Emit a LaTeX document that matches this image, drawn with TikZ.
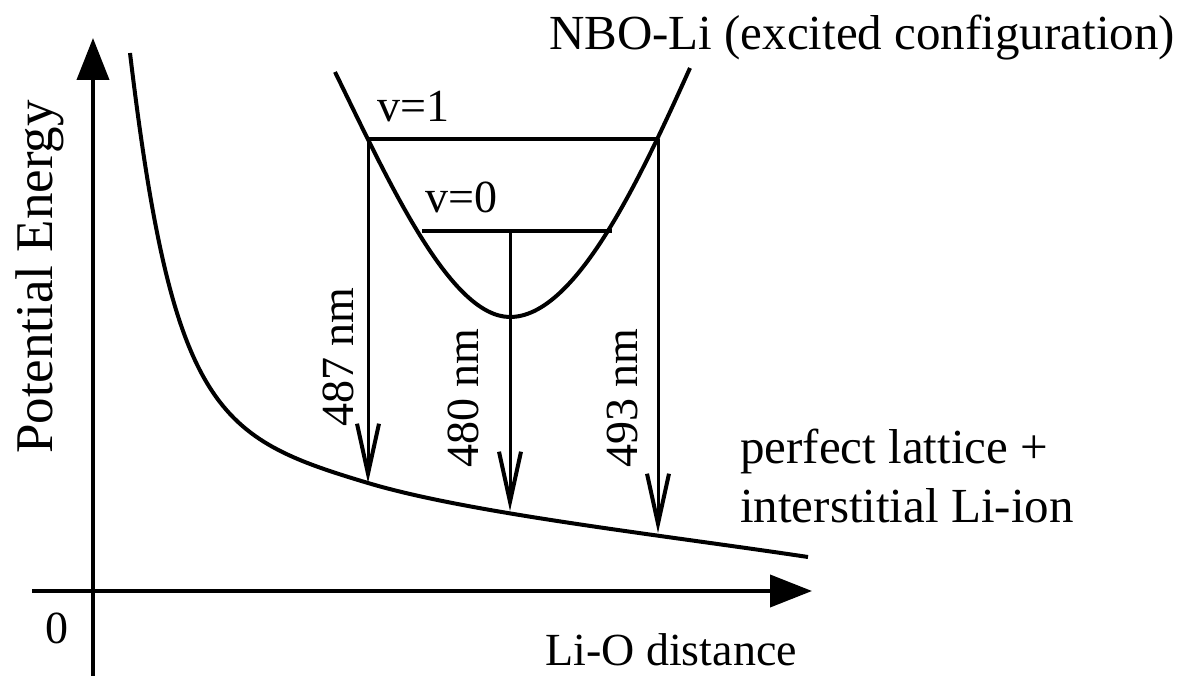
\documentclass[tikz,border=0pt]{standalone}
\usepackage{fontspec}
\setmainfont{Liberation Serif}
\usepackage{tikz}
\usetikzlibrary{arrows.meta,positioning}
\tikzset{
    % Base label style
    labeltext/.style={
        inner sep=0pt,
        font=\fontsize{46}{55}\selectfont
    },
    % Larger label style
    bigtext/.style={
        labeltext,
        font=\fontsize{49}{58}\selectfont
    },
    % Wavelength label style
    nmtext/.style={
        labeltext,
        rotate=90
    },
    % Axis style
    axisline/.style={
        -{Triangle[length=42pt,width=32pt]},
        line width=4pt
    },
    % Potential curve style
    curveline/.style={
        line width=4pt,
        line join=round
    },
    % Vibrational level style
    levelline/.style={
        line width=4pt
    },
    % Emission arrow style
    emitarrow/.style={
        -{Straight Barb[length=50pt,width=22pt,line width=4pt]},
        line width=3pt
    }
}
\begin{document}
\begin{tikzpicture}[x=1pt,y=-1pt]
    \useasboundingbox (0,0) rectangle (1186,676);

    % axes
    \coordinate (ybot) at (93,676);
    \coordinate (ytop) at (93,38);
    \coordinate (xleft) at (32,591);
    \coordinate (xright) at (812,591);
    \draw[axisline] (ybot) -- (ytop);
    \draw[axisline] (xleft) -- (xright);

    % ground state curve
    \coordinate (g1) at (368,483);
    \coordinate (g2) at (510,511);
    \coordinate (g3) at (658,533);
    \draw[curveline] (130,53) .. controls (173,413) and (218,438) .. (g1)
        .. controls (468,513) and (658,534.5) .. (808,557);

    % excited state curve
    \coordinate (emin) at (510,317);
    \draw[curveline] (335,72) .. controls (388.9,182) and (450,317) .. (emin)
        .. controls (575,317) and (638.25,183) .. (690,68);

    % levels
    \coordinate (v1L) at (368,139);
    \coordinate (v1R) at (658,139);
    \coordinate (v0L) at (422,231);
    \coordinate (v0R) at (612,231);
    \coordinate (v0M) at (510,231);
    \draw[levelline] (v1L) -- (v1R);
    \draw[levelline] (v0L) -- (v0R);

    \draw[emitarrow] (v1L) -- (g1);
    \draw[emitarrow] (v0M) -- (g2);
    \draw[emitarrow] (v1R) -- (g3);

    % labels
    \node[labeltext, anchor=base west] (lv1) at (377,122) {v=1};
    \node[labeltext, anchor=base west] (lv0) at (425,213) {v=0};
    \node[nmtext] (l487) at (338,357) {487 nm};
    \node[nmtext] (l480) at (463,398) {480 nm};
    \node[nmtext] (l493) at (622,398) {493 nm};
    \node[bigtext] (excited) at (862,38) {NBO-Li (excited configuration)};
    \node[bigtext, anchor=base west] (ground1) at (740,463) {perfect lattice +};
    \node[bigtext, anchor=base west] (ground2) at (740,522) {interstitial Li-ion};
    \node[nmtext, font=\fontsize{53}{62}\selectfont] (ylabel) at (40,277) {Potential Energy};
    \node[labeltext] (xlabel) at (671,650) {Li-O distance};
    \node[labeltext] (origin) at (57,628) {0};
\end{tikzpicture}
\end{document}
